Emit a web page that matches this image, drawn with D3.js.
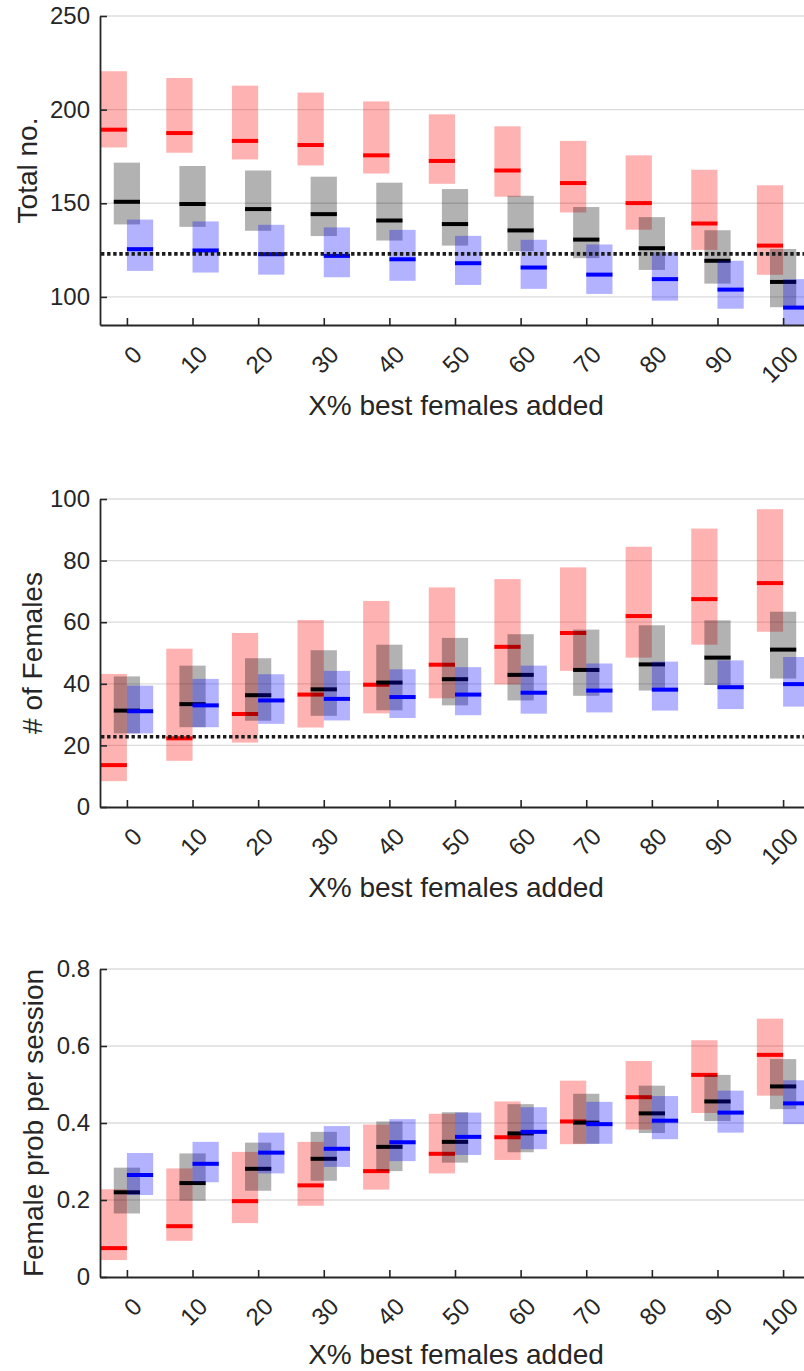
<!DOCTYPE html>
<html>
<head>
<meta charset="utf-8">
<script src="https://cdn.jsdelivr.net/npm/d3@7"></script>
<style>
  body { margin: 0; background: #fff; }
  svg text { font-family: "Liberation Sans", Arial, Helvetica, sans-serif; fill: #262626; }
</style>
</head>
<body>
<div id="chart"></div>
<script>
// DATA ------------------------------
// each entry is [low, median, high]
const pctAdded = [0, 10, 20, 30, 40, 50, 60, 70, 80, 90, 100];

// panel 1: Total no.
const totalRed = [[179.8,189.3,220.5],[177,187.5,216.9],[173.4,183.3,212.8],[170.2,181.1,209.1],[165.9,175.6,204.4],
  [160.4,172.6,197.5],[153.5,167.5,191.1],[145.1,160.8,183.3],[135.9,150.1,175.6],[125.1,139.2,167.9],[111.8,127.4,159.6]];
const totalBlack = [[138.7,150.8,171.7],[137.4,149.6,169.9],[135.3,146.9,167.5],[132.5,144.2,164.2],[130.1,140.8,161],
  [127.4,138.9,157.6],[124.4,135.5,154],[120.7,130.6,148],[114.4,126,142.6],[107.1,119.3,135.6],[94.5,108,125.6]];
const totalBlue = [[113.9,125.5,141.3],[113,124.8,140.3],[111.9,122.8,138.5],[110.5,121.9,137.1],[108.6,120.1,135.8],
  [106.4,118,132.6],[104.3,115.7,130.5],[101.6,111.9,128],[98,109.5,123.8],[93.7,103.9,119.3],[80,94.3,109.5]];
const totalTicks = [100, 150, 200, 250];
const totalRef = 123;

// panel 2: # of Females
const femRed = [[8.4,13.6,43.2],[15,22.3,51.4],[20.9,30.2,56.5],[25.8,36.5,60.7],[30.4,39.7,66.9],
  [35.3,46.2,71.3],[39.8,52,74],[44.2,56.5,77.8],[48.5,62,84.5],[52.7,67.5,90.4],[56.9,72.7,96.7]];
const femBlack = [[23.9,31.3,42.4],[25.9,33.4,45.9],[28,36.3,48.3],[29.6,38.2,50.9],[31.4,40.4,52.7],
  [33,41.5,54.9],[34.6,42.9,56.1],[36.1,44.5,57.6],[37.8,46.3,59],[39.6,48.5,60.6],[41.7,51.1,63.4]];
const femBlue = [[23.9,31.1,39.4],[25.9,33,41.6],[27,34.6,43.1],[28.1,35.1,44.2],[28.9,35.7,44.7],
  [29.8,36.5,45.4],[30.3,37.1,45.9],[30.7,37.8,46.6],[31.3,38.1,47.2],[31.8,38.9,47.6],[32.6,39.9,48.7]];
const femTicks = [0, 20, 40, 60, 80, 100];
const femRef = 22.8;

// panel 3: Female prob per session
const probRed = [[0.044,0.075,0.228],[0.094,0.132,0.282],[0.14,0.197,0.325],[0.185,0.238,0.351],[0.227,0.275,0.396],
  [0.269,0.32,0.424],[0.304,0.363,0.456],[0.345,0.404,0.51],[0.383,0.467,0.561],[0.426,0.525,0.615],[0.471,0.577,0.671]];
const probBlack = [[0.165,0.22,0.284],[0.198,0.244,0.321],[0.224,0.281,0.349],[0.25,0.307,0.377],[0.275,0.338,0.404],
  [0.297,0.351,0.428],[0.324,0.373,0.449],[0.346,0.401,0.476],[0.374,0.425,0.497],[0.405,0.456,0.525],[0.436,0.495,0.566]];
const probBlue = [[0.213,0.265,0.322],[0.246,0.294,0.351],[0.269,0.323,0.375],[0.286,0.333,0.392],[0.301,0.35,0.41],
  [0.317,0.364,0.427],[0.332,0.377,0.441],[0.346,0.397,0.455],[0.358,0.406,0.47],[0.375,0.427,0.484],[0.397,0.451,0.511]];
const probTicks = [0, 0.2, 0.4, 0.6, 0.8];

// CHART ------------------------------
const W = 804, H = 1371;
const axisColor = "#262626";
const boxW = 4; // data units on x

const svg = d3.select("#chart").append("svg")
  .attr("width", W).attr("height", H);

const x = d3.scaleLinear().domain([-4.1, 104.1]).range([100, 810]);

const seriesStyle = [
  {fill: "rgba(255,0,0,0.3)", med: "#ff0000", off: -1},
  {fill: "rgba(0,0,0,0.3)", med: "#000000", off: -0.5},
  {fill: "rgba(0,0,255,0.3)", med: "#0000ff", off: 0}
];

function drawPanel(p, idx) {
  const y = d3.scaleLinear().domain(p.domain).range([p.bottom, p.top]);
  const g = svg.append("g");

  g.append("clipPath").attr("id", "clip" + idx)
    .append("rect")
    .attr("x", x.range()[0]).attr("y", p.top)
    .attr("width", W - x.range()[0]).attr("height", p.bottom - p.top);

  // grid
  g.append("g").selectAll("line")
    .data(p.ticks.filter(t => t !== p.domain[0]))
    .enter().append("line")
    .attr("x1", x.range()[0]).attr("x2", W)
    .attr("y1", d => y(d)).attr("y2", d => y(d))
    .attr("stroke", "#dcdcdc").attr("stroke-width", 1.3);

  // boxes and medians
  const plot = g.append("g").attr("clip-path", `url(#clip${idx})`);
  pctAdded.forEach((c, i) => {
    p.series.forEach((s, k) => {
      const st = seriesStyle[k];
      const x0 = x(c + st.off * boxW), x1 = x(c + (st.off + 1) * boxW);
      const v = s[i];
      plot.append("rect")
        .attr("x", x0).attr("width", x1 - x0)
        .attr("y", y(v[2])).attr("height", y(v[0]) - y(v[2]))
        .attr("fill", st.fill);
      plot.append("line")
        .attr("x1", x0).attr("x2", x1)
        .attr("y1", y(v[1])).attr("y2", y(v[1]))
        .attr("stroke", st.med).attr("stroke-width", 4);
    });
  });

  // dotted reference line
  if (p.ref != null) {
    plot.append("line")
      .attr("x1", x.range()[0] + 1).attr("x2", W)
      .attr("y1", y(p.ref)).attr("y2", y(p.ref))
      .attr("stroke", "#1a1a1a").attr("stroke-width", 3.6)
      .attr("stroke-dasharray", "3.4 2.7");
  }

  // axes
  const yAxis = d3.axisLeft(y).tickValues(p.ticks)
    .tickSize(-7).tickSizeOuter(0).tickPadding(10)
    .tickFormat(p.fmt);
  const ya = g.append("g")
    .attr("transform", `translate(${x.range()[0]},0)`)
    .call(yAxis);
  ya.selectAll("text").style("font-size", "24px").attr("fill", axisColor);

  const xAxis = d3.axisBottom(x).tickValues(pctAdded)
    .tickSize(-7).tickSizeOuter(0)
    .tickFormat(d3.format("d"));
  const xa = g.append("g")
    .attr("transform", `translate(0,${p.bottom})`)
    .call(xAxis);
  xa.selectAll("text")
    .attr("x", 0).attr("y", 0).attr("dy", null)
    .attr("text-anchor", "end")
    .attr("transform", "translate(16,31) rotate(-45)")
    .style("font-size", "24px").attr("fill", axisColor);

  [ya, xa].forEach(a => {
    a.select(".domain").attr("stroke", axisColor).attr("stroke-width", 1.8);
    a.selectAll(".tick line").attr("stroke", axisColor).attr("stroke-width", 1.6);
  });

  // labels
  g.append("text")
    .attr("transform", `translate(${p.labelX},${(p.top + p.bottom) / 2}) rotate(-90)`)
    .attr("text-anchor", "middle")
    .style("font-size", "28px")
    .text(p.label);

  g.append("text")
    .attr("x", 456).attr("y", Math.min(p.bottom + 90, H - 7))
    .attr("text-anchor", "middle")
    .style("font-size", "28px")
    .text("X% best females added");
}

const panels = [
  {domain: [85, 250], top: 16, bottom: 325, ticks: totalTicks, fmt: d3.format("d"),
   series: [totalRed, totalBlack, totalBlue], ref: totalRef, label: "Total no.", labelX: 37},
  {domain: [0, 100], top: 499, bottom: 807, ticks: femTicks, fmt: d3.format("d"),
   series: [femRed, femBlack, femBlue], ref: femRef, label: "# of Females", labelX: 42},
  {domain: [0, 0.8], top: 969, bottom: 1277, ticks: probTicks, fmt: d => d === 0 ? "0" : d3.format(".1f")(d),
   series: [probRed, probBlack, probBlue], ref: null, label: "Female prob per session", labelX: 43}
];

panels.forEach(drawPanel);
</script>
</body>
</html>
